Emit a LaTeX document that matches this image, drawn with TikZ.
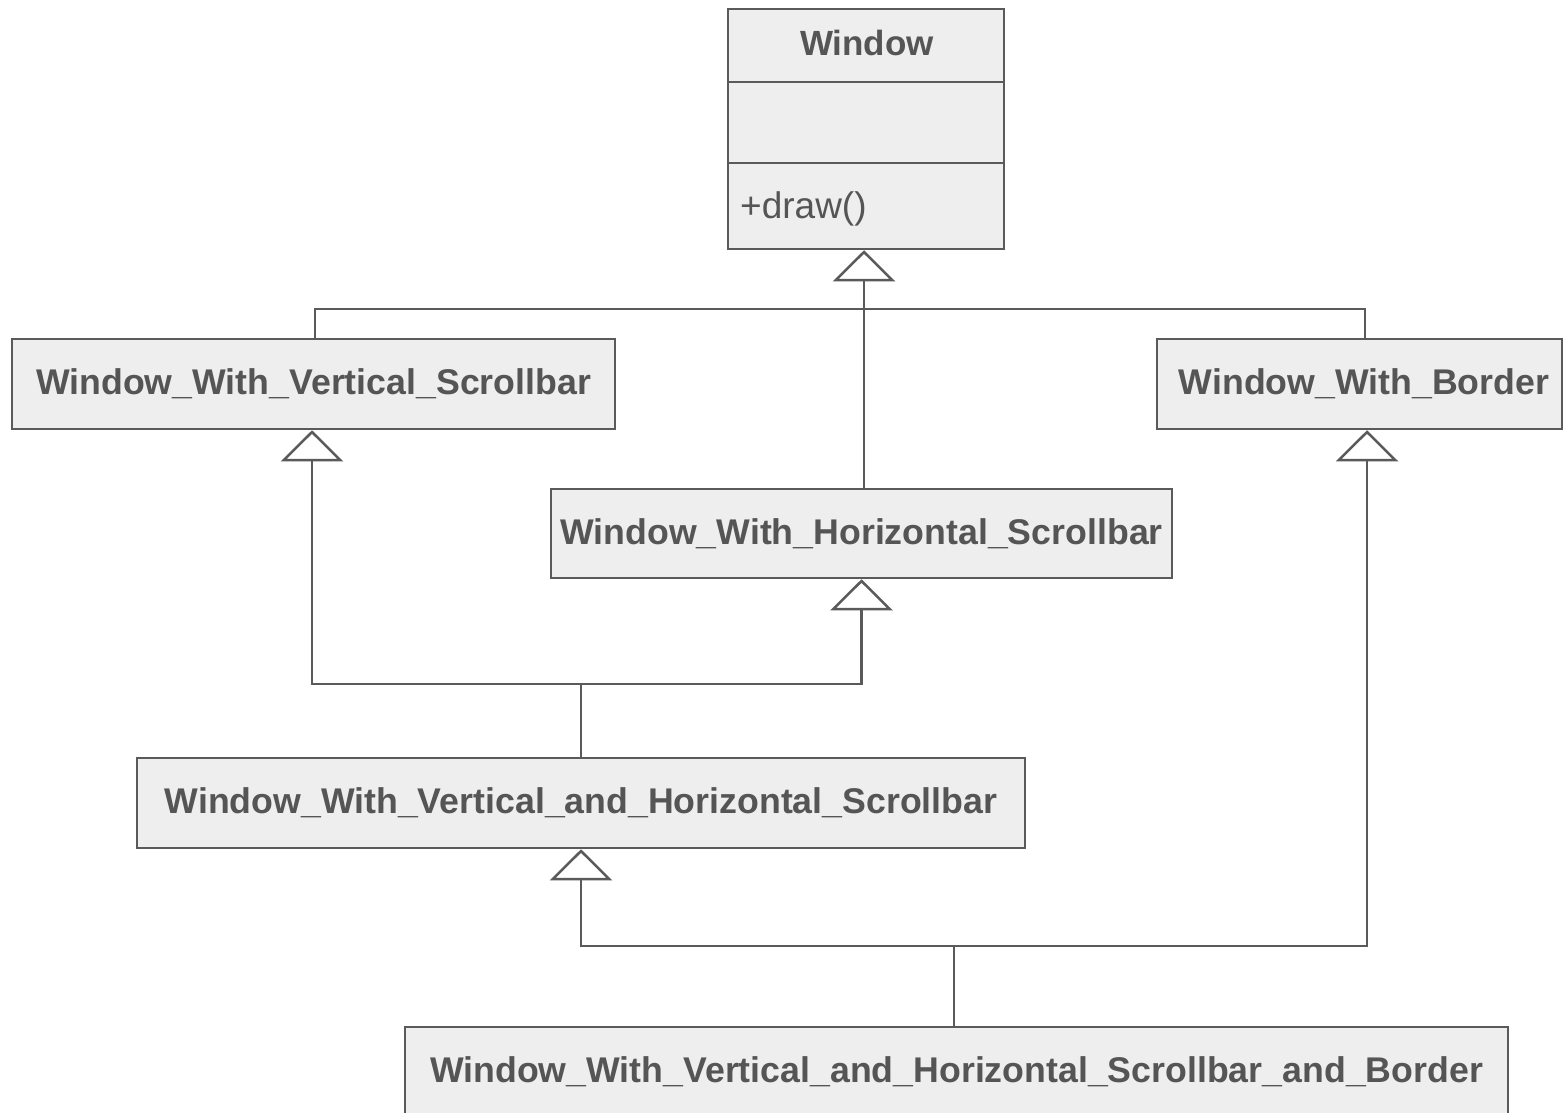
\documentclass[tikz,border=0pt]{standalone}
\usepackage{fontspec}
\setmainfont{Liberation Sans}
\usetikzlibrary{arrows.meta,calc}
\definecolor{ln}{HTML}{5A5A5A}
\definecolor{bx}{HTML}{EEEEEE}
\definecolor{tx}{HTML}{555555}
\tikzset{
  cls/.style={draw=ln, fill=bx, line width=2.5pt, rectangle, inner sep=0pt, text=tx,
    font=\fontsize{35.7}{40}\selectfont\bfseries},
  conn/.style={draw=ln, line width=2.3pt},
  inh/.style={conn, -{Triangle[open, length=31pt, width=62pt, line width=2.5pt]}},
  lbl/.style={inner sep=0pt, text=tx},
}
\begin{document}
\begin{tikzpicture}[x=1pt,y=-1pt]
\clip (0,0) rectangle (1563,1113);
\fill[white] (0,0) rectangle (1563,1113);
% Window class
\node[cls, minimum width=276pt, minimum height=240pt] (W) at (866,129) {};
\draw[conn, line width=2.5pt] (728,82) -- (1004,82);
\draw[conn, line width=2.5pt] (728,163) -- (1004,163);
\node[lbl, font=\fontsize{35}{40}\selectfont\bfseries] (Wt) at (867,43) {Window};
\node[lbl, anchor=west, font=\fontsize{37}{40}\selectfont] (Wm) at (740,209) {+draw()};
% other classes
\node[cls, minimum width=603pt, minimum height=90pt] (V) at (313.5,384) {Window\_With\_Vertical\_Scrollbar};
\node[cls, minimum width=405pt, minimum height=90pt] (B) at (1359.5,384) {\hspace*{9pt}Window\_With\_Border};
\node[cls, minimum width=621pt, minimum height=89pt] (H) at (861.5,533.5) {Window\_With\_Horizontal\_Scrollbar};
\node[cls, minimum width=888pt, minimum height=90pt] (VH) at (581,803) {Window\_With\_Vertical\_and\_Horizontal\_Scrollbar};
\node[cls, minimum width=1103pt, minimum height=90pt] (VHB) at (956.5,1072) {Window\_With\_Vertical\_and\_Horizontal\_Scrollbar\_and\_Border};
% junctions
\coordinate (jt) at (864,309);
\coordinate (jm) at (581,684);
\coordinate (jb) at (954,946);
% connectors
\draw[inh] (W.south |- H.north) ++(-2,0) coordinate (hn) -- (hn |- W.south);
\draw[conn] ([xshift=1.5pt]V.north) |- (jt) -| ([xshift=5.5pt]B.north);
\draw[inh] (jm) -| ([xshift=-1.5pt]V.south);
\draw[inh] (jm) -| (H.south);
\draw[conn] (VH.north) -- (jm);
\draw[inh] (jb) -| (VH.south);
\draw[inh] (jb) -| ([xshift=7.5pt]B.south);
\draw[conn] ([xshift=-2.5pt]VHB.north) -- (jb);
\end{tikzpicture}
\end{document}
